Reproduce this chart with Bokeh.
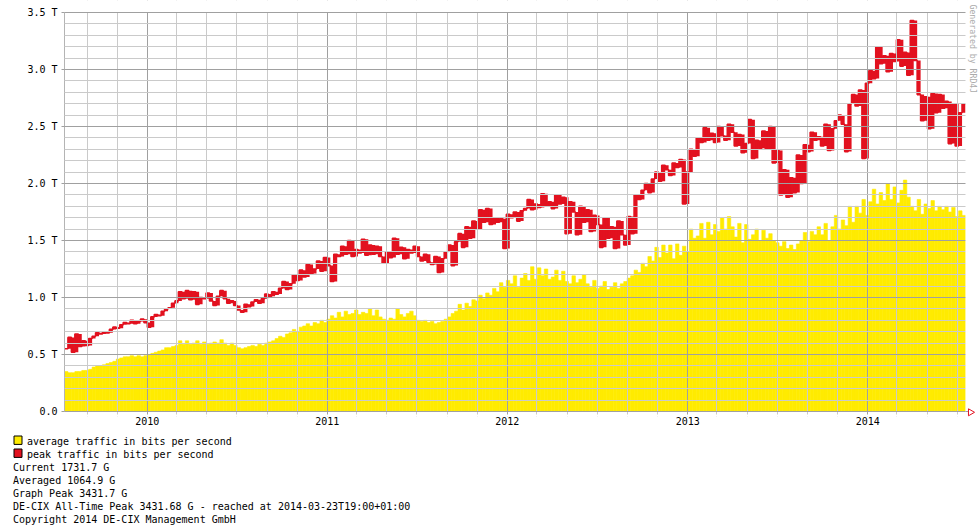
import math
import pandas as pd
from bokeh.plotting import figure
from bokeh.layouts import column, row
from bokeh.core.properties import value
from bokeh.models import ColumnDataSource, FixedTicker, DatetimeTickFormatter, Range1d
from bokeh.embed import file_html
from bokeh.resources import INLINE

# ---------------- data (weekly values, Tbit/s) ----------------
FIRST_WEEK = "2009-07-17"

avg_tbps = [
    0.35, 0.34, 0.34, 0.35, 0.35, 0.36, 0.36, 0.37, 0.39, 0.40,
    0.40, 0.41, 0.42, 0.43, 0.44, 0.46, 0.47, 0.48, 0.48, 0.49,
    0.48, 0.49, 0.48, 0.49, 0.50, 0.51, 0.52, 0.53, 0.54, 0.56,
    0.56, 0.57, 0.58, 0.62, 0.59, 0.62, 0.59, 0.60, 0.62, 0.59,
    0.61, 0.59, 0.60, 0.61,
    0.60, 0.63, 0.60, 0.58, 0.60, 0.58, 0.56, 0.55, 0.56, 0.57,
    0.58, 0.57, 0.59, 0.58, 0.60, 0.61, 0.62, 0.64, 0.66, 0.65,
    0.68, 0.69, 0.72, 0.70, 0.74, 0.75, 0.77, 0.75, 0.78, 0.77,
    0.80, 0.78, 0.81, 0.84, 0.82, 0.87, 0.83, 0.88, 0.85, 0.86,
    0.89, 0.85, 0.87, 0.86,
    0.90, 0.84, 0.89, 0.83, 0.81, 0.80, 0.82, 0.81, 0.90, 0.85,
    0.83, 0.86, 0.88, 0.84, 0.80, 0.79, 0.80, 0.78, 0.79, 0.77,
    0.78, 0.79, 0.81, 0.83, 0.86, 0.88, 0.94, 0.89, 0.95, 0.92,
    0.98, 0.97, 1.02, 0.99, 1.04, 1.02, 1.08, 1.05, 1.13, 1.09,
    1.15, 1.12, 1.19,
    1.09, 1.17, 1.21, 1.15, 1.27, 1.16, 1.26, 1.19, 1.25, 1.16,
    1.18, 1.24, 1.15, 1.23, 1.14, 1.12, 1.19, 1.13, 1.16, 1.20,
    1.12, 1.09, 1.15, 1.08, 1.10, 1.14, 1.07, 1.09, 1.13, 1.08,
    1.12, 1.14, 1.17, 1.19, 1.24, 1.22, 1.30, 1.27, 1.36, 1.32,
    1.44, 1.35, 1.46, 1.39,
    1.46, 1.34, 1.47, 1.37, 1.45, 1.40, 1.60, 1.52, 1.54, 1.65,
    1.52, 1.66, 1.55, 1.64, 1.58, 1.70, 1.60, 1.71, 1.62, 1.53,
    1.65, 1.48, 1.64, 1.51, 1.55, 1.60, 1.50, 1.59, 1.52, 1.56,
    1.50, 1.48, 1.45, 1.49, 1.43, 1.46, 1.42, 1.47, 1.50, 1.57,
    1.49, 1.58, 1.55,
    1.62, 1.55, 1.65, 1.50, 1.62, 1.72, 1.60, 1.68, 1.63, 1.80,
    1.66, 1.80, 1.74, 1.86, 1.72, 1.84, 1.95, 1.82, 1.92, 1.85,
    2.00, 1.86, 1.97, 1.83, 1.94, 2.03, 1.88, 1.80, 1.76, 1.86,
    1.73, 1.82, 1.78, 1.85, 1.76, 1.80, 1.77, 1.80, 1.75, 1.79,
    1.71, 1.76, 1.72,
]

peak_tbps = [
    0.55, 0.65, 0.52, 0.68, 0.57, 0.62, 0.58, 0.64, 0.66, 0.69,
    0.68, 0.70, 0.69, 0.72, 0.74, 0.73, 0.76, 0.78, 0.77, 0.80,
    0.77, 0.79, 0.81, 0.78, 0.74, 0.83, 0.85, 0.84, 0.88, 0.90,
    0.91, 0.95, 0.97, 1.05, 0.99, 1.06, 0.98, 1.05, 0.94, 1.00,
    0.99, 1.04, 0.97, 0.93,
    1.01, 1.06, 0.99, 0.95, 0.97, 0.93, 0.89, 0.87, 0.94, 0.92,
    0.96, 0.98, 0.95, 0.99, 1.03, 1.01, 1.05, 1.03, 1.08, 1.14,
    1.07, 1.12, 1.20, 1.15, 1.24, 1.18, 1.29, 1.21, 1.25, 1.32,
    1.23, 1.35, 1.28, 1.14, 1.38, 1.36, 1.45, 1.38, 1.50, 1.36,
    1.42, 1.39, 1.51, 1.37,
    1.46, 1.38, 1.45, 1.36, 1.30, 1.40, 1.35, 1.52, 1.38, 1.44,
    1.34, 1.42, 1.39, 1.45, 1.36, 1.32, 1.38, 1.31, 1.29, 1.36,
    1.22, 1.34, 1.40, 1.46, 1.28, 1.49, 1.56, 1.44, 1.62, 1.52,
    1.67, 1.60, 1.77, 1.66, 1.78, 1.64, 1.70, 1.66, 1.69, 1.43,
    1.73, 1.70, 1.75,
    1.67, 1.76, 1.78, 1.86, 1.77, 1.82, 1.79, 1.91, 1.80, 1.84,
    1.78, 1.90, 1.82, 1.88, 1.56, 1.84, 1.75, 1.55, 1.80, 1.66,
    1.77, 1.58, 1.72, 1.64, 1.44, 1.70, 1.52, 1.62, 1.43, 1.67,
    1.55, 1.46, 1.71, 1.56, 1.90, 1.86, 1.94, 2.00, 1.92, 2.04,
    2.10, 2.02, 2.16, 2.12,
    2.07, 2.18, 2.14, 2.21, 1.82, 2.10, 2.30, 2.24, 2.40, 2.36,
    2.49, 2.38, 2.44, 2.36, 2.50, 2.42, 2.38, 2.52, 2.45, 2.33,
    2.43, 2.27, 2.35, 2.56, 2.22, 2.38, 2.31, 2.46, 2.30, 2.50,
    2.18, 2.29, 1.90, 2.12, 1.88, 2.05, 1.92, 2.25, 2.00, 2.34,
    2.28, 2.45, 2.38,
    2.41, 2.33, 2.52, 2.29, 2.48, 2.55, 2.60, 2.52, 2.28, 2.70,
    2.78, 2.68, 2.82, 2.22, 2.88, 2.99, 2.92, 3.20, 3.05, 3.12,
    2.98, 3.14, 3.07, 3.26, 3.03, 3.15, 2.95, 3.43, 3.08, 2.78,
    2.55, 2.76, 2.48, 2.79, 2.62, 2.78, 2.66, 2.72, 2.35, 2.70,
    2.33, 2.62, 2.70,
]

year_ticks = ["2010-01-01", "2011-01-01", "2012-01-01", "2013-01-01", "2014-01-01"]
year_labels = ["2010", "2011", "2012", "2013", "2014"]
y_ticks = [0.0, 0.5, 1.0, 1.5, 2.0, 2.5, 3.0, 3.5]
y_labels = ["0.0", "0.5 T", "1.0 T", "1.5 T", "2.0 T", "2.5 T", "3.0 T", "3.5 T"]
legend_labels = ["average traffic in bits per second", "peak traffic in bits per second"]
summary_lines = [
    "Current 1731.7 G",
    "Averaged 1064.9 G",
    "Graph Peak 3431.7 G",
    "DE-CIX All-Time Peak 3431.68 G - reached at 2014-03-23T19:00+01:00",
    "Copyright 2014 DE-CIX Management GmbH",
]
watermark = "Generated by RRD4J"

# ---------------- styling / geometry (pixels) ----------------
YELLOW = "#FFEB00"
RED = "#E2111F"
MAJOR_GRID = "#A0A0A0"
MINOR_GRID = "#CACACA"
MONO = "DejaVu Sans Mono"

CANVAS_W, MAIN_H, FOOT_H = 980, 432, 100
PLOT_L, DATA_R = 64, 965          # left / right edge of the data area
TOP_PX, ZERO_PX, FRAME_B = 12, 411, 416
Y_MAX = 3.5


def to_ms(ts):
    return pd.Timestamp(ts).value / 1e6


starts = pd.date_range(FIRST_WEEK, periods=len(avg_tbps), freq="7D")
start_ms = [t.value / 1e6 for t in starts]
end_ms = [(t + pd.Timedelta(days=7)).value / 1e6 for t in starts]

year_ms = [to_ms(d) for d in year_ticks]
minor_dates = [d for d in pd.date_range("2009-09-01", "2014-07-01", freq="2MS") if d.month != 1]
minor_ms = [d.value / 1e6 for d in minor_dates]
y_minor = [round(0.1 * k, 1) for k in range(36) if k % 5]

x0, x1 = start_ms[0], end_ms[-1]
ms_per_px = (x1 - x0) / (DATA_R - PLOT_L)
px_per_t = (ZERO_PX - TOP_PX) / Y_MAX
x_hi = x1 + (CANVAS_W - DATA_R) * ms_per_px
y_lo = -(FRAME_B - ZERO_PX) / px_per_t
y_hi = Y_MAX + TOP_PX / px_per_t

# ---------------- main chart ----------------
p = figure(width=CANVAS_W, height=MAIN_H, x_axis_type="datetime", output_backend="svg",
           toolbar_location=None, x_range=Range1d(x0, x_hi), y_range=Range1d(y_lo, y_hi),
           min_border_left=PLOT_L, min_border_right=0, min_border_top=0,
           min_border_bottom=MAIN_H - FRAME_B)
p.outline_line_color = None
p.background_fill_color = "white"
p.border_fill_color = "white"

src = ColumnDataSource(dict(left=start_ms, right=end_ms, top=avg_tbps))
p.quad(left="left", right="right", bottom=0, top="top", source=src,
       fill_color=YELLOW, line_color=YELLOW, line_width=0.6)

prev_peak = [peak_tbps[0]] + peak_tbps[:-1]
peak_src = ColumnDataSource(dict(left=start_ms, right=end_ms,
                                 lo=[min(a, b) for a, b in zip(prev_peak, peak_tbps)],
                                 hi=[max(a, b) for a, b in zip(prev_peak, peak_tbps)]))
p.quad(left="left", right="right", bottom="lo", top="hi", source=peak_src,
       fill_color=RED, line_color=None)
p.step(start_ms + [x1], peak_tbps + [peak_tbps[-1]], mode="after",
       line_color=RED, line_width=1.6)

p.xaxis.ticker = FixedTicker(ticks=year_ms, minor_ticks=minor_ms)
p.xaxis.formatter = DatetimeTickFormatter(years="%Y", months="%Y", days="%Y", hours="%Y",
                                          hourmin="%Y", minutes="%Y", minsec="%Y",
                                          seconds="%Y", milliseconds="%Y", microseconds="%Y")
p.xaxis.major_label_overrides = dict(zip(year_ms, year_labels))
p.yaxis.ticker = FixedTicker(ticks=y_ticks, minor_ticks=y_minor)
p.yaxis.major_label_overrides = dict(zip(y_ticks, y_labels))
p.yaxis.bounds = (0, Y_MAX)

for ax in (p.xaxis, p.yaxis):
    ax.major_label_text_font = MONO
    ax.major_label_text_font_size = "10px"
    ax.major_label_text_color = "black"
    ax.major_tick_in = 0
    ax.minor_tick_in = 0
    ax.major_tick_line_color = MAJOR_GRID
    ax.minor_tick_line_color = MAJOR_GRID

p.xaxis.major_tick_out = 0
p.xaxis.minor_tick_out = 0
p.xaxis.major_label_standoff = 0
p.xaxis.axis_line_color = None
p.yaxis.major_tick_out = 3
p.yaxis.minor_tick_out = 0
p.yaxis.major_label_standoff = 4
p.yaxis.axis_line_color = "#B4B4B4"

for g in (p.xgrid, p.ygrid):
    g.grid_line_color = MAJOR_GRID
    g.minor_grid_line_color = MINOR_GRID
    g.level = "guide"
p.xgrid.ticker = p.xaxis.ticker
p.ygrid.ticker = p.yaxis.ticker

# white masks keep the grid inside the data area (grid ends show as short ticks below)
masks = ColumnDataSource(dict(
    left=[x1, x0, x0],
    right=[x_hi, x_hi, x_hi],
    bottom=[y_lo, Y_MAX + 0.6 / px_per_t, y_lo],
    top=[y_hi, y_hi, -3 / px_per_t],
))
p.quad(left="left", right="right", bottom="bottom", top="top", source=masks,
       fill_color="white", line_color=None, level="overlay")

# axis end: short extension + red arrow, and the vertical watermark
p.segment(x0=[x1], y0=[0], x1=[x1 + 3 * ms_per_px], y1=[0],
          line_color=MAJOR_GRID, line_width=1, level="overlay")
p.scatter(x=[x1 + 5 * ms_per_px], y=[-0.8 / px_per_t], marker="triangle",
          angle=-math.pi / 2, size=7, fill_color="white", line_color=RED, line_width=1,
          level="overlay")
p.text(x=[x1 + 7.5 * ms_per_px], y=[Y_MAX + (TOP_PX - 4) / px_per_t], text=[watermark],
       angle=-math.pi / 2, text_font=value(MONO), text_font_size="8.2px",
       text_color="#ABABAB", text_align="left", text_baseline="middle", level="overlay")

# ---------------- bottom strip: legend + summary ----------------
foot = figure(width=CANVAS_W, height=FOOT_H, output_backend="svg", toolbar_location=None,
              x_range=Range1d(0, CANVAS_W), y_range=Range1d(FOOT_H, 0),
              x_axis_location=None, y_axis_location=None,
              min_border=0, min_border_left=0, min_border_right=0,
              min_border_top=0, min_border_bottom=0)
foot.outline_line_color = None
foot.grid.visible = False

swatch_colors = [YELLOW, RED]
row_pitch = 13
first_row = 8.7
for k, (lab, col) in enumerate(zip(legend_labels, swatch_colors)):
    yc = first_row + row_pitch * k
    foot.quad(left=[13.5], right=[21.5], top=[yc - 5.2], bottom=[yc + 3.2],
              fill_color=col, line_color="black", line_width=1)
    foot.text(x=[26.5], y=[yc], text=[lab], text_font=value(MONO), text_font_size="10px",
              text_color="black", text_align="left", text_baseline="middle")

for k, line in enumerate(summary_lines):
    yc = first_row + row_pitch * (k + 2)
    foot.text(x=[12.5], y=[yc], text=[line], text_font=value(MONO), text_font_size="10px",
              text_color="black", text_align="left", text_baseline="middle")

# nesting the chart in its own row keeps the two canvases from aligning their frames
layout = column(row(p), foot)
open("out.html", "w").write(file_html(layout, INLINE))
